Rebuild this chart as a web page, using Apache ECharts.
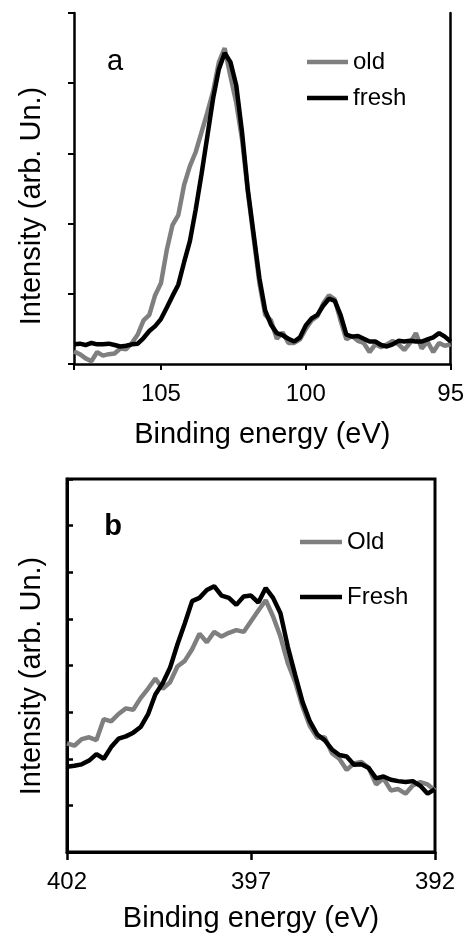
<!DOCTYPE html>
<html><head><meta charset="utf-8">
<script src="https://cdn.jsdelivr.net/npm/echarts@6/dist/echarts.min.js"></script>
<style>html,body{margin:0;padding:0;background:#fff}#c{width:467px;height:934px}</style>
</head><body><div id="c"></div>
<script>
// ---- Panel a (top) ----
const topEnergy = [108.0,107.8,107.6,107.4,107.2,107.0,106.8,106.6,106.4,106.2,106.0,105.8,105.6,105.4,105.2,105.0,104.8,104.6,104.4,104.2,104.0,103.8,103.6,103.4,103.2,103.0,102.8,102.6,102.4,102.2,102.0,101.8,101.6,101.4,101.2,101.0,100.8,100.6,100.4,100.2,100.0,99.8,99.6,99.4,99.2,99.0,98.8,98.6,98.4,98.2,98.0,97.8,97.6,97.4,97.2,97.0,96.8,96.6,96.4,96.2,96.0,95.8,95.6,95.4,95.2,95.0];
const topOld = [0.18,0.14,0.08,0.04,0.17,0.12,0.14,0.15,0.22,0.21,0.30,0.42,0.62,0.70,0.98,1.15,1.62,1.98,2.12,2.55,2.82,3.02,3.30,3.58,3.88,4.30,4.50,4.10,3.72,3.20,2.45,1.80,1.15,0.70,0.62,0.36,0.45,0.30,0.30,0.35,0.50,0.62,0.68,0.86,0.98,0.92,0.62,0.35,0.40,0.33,0.30,0.17,0.28,0.24,0.28,0.33,0.28,0.20,0.30,0.44,0.22,0.32,0.17,0.30,0.26,0.28];
const topFresh = [0.28,0.29,0.27,0.30,0.28,0.28,0.29,0.27,0.25,0.26,0.28,0.29,0.37,0.47,0.54,0.64,0.80,0.97,1.13,1.45,1.75,2.20,2.70,3.24,3.78,4.20,4.43,4.30,3.97,3.30,2.48,1.85,1.22,0.76,0.56,0.44,0.41,0.36,0.32,0.38,0.55,0.65,0.70,0.83,0.93,0.90,0.70,0.42,0.39,0.40,0.36,0.32,0.32,0.27,0.25,0.28,0.33,0.32,0.33,0.32,0.32,0.35,0.38,0.44,0.39,0.32];
const topTickLabels = [105, 100, 95];

// ---- Panel b (bottom) ----
const botEnergy = [402.0,401.8,401.6,401.4,401.2,401.0,400.8,400.6,400.4,400.2,400.0,399.8,399.6,399.4,399.2,399.0,398.8,398.6,398.4,398.2,398.0,397.8,397.6,397.4,397.2,397.0,396.8,396.6,396.4,396.2,396.0,395.8,395.6,395.4,395.2,395.0,394.8,394.6,394.4,394.2,394.0,393.8,393.6,393.4,393.2,393.0,392.8,392.6,392.4,392.2,392.0];
const botOld = [2.33,2.28,2.42,2.46,2.40,2.85,2.80,2.96,3.08,3.05,3.30,3.50,3.72,3.50,3.64,3.98,4.10,4.35,4.68,4.50,4.72,4.62,4.70,4.76,4.72,4.95,5.18,5.40,5.05,4.62,4.05,3.65,3.12,2.70,2.45,2.46,2.12,2.00,1.76,1.90,1.93,1.80,1.45,1.58,1.32,1.35,1.25,1.43,1.50,1.45,1.32];
const botFresh = [1.83,1.85,1.88,1.96,2.10,2.00,2.25,2.43,2.48,2.56,2.68,2.95,3.38,3.62,3.95,4.45,4.90,5.38,5.45,5.62,5.70,5.50,5.45,5.30,5.48,5.50,5.35,5.66,5.45,5.12,4.40,3.80,3.22,2.80,2.52,2.40,2.20,2.08,2.05,1.87,1.88,1.80,1.58,1.62,1.55,1.52,1.50,1.52,1.42,1.25,1.35];
const botTickLabels = [402, 397, 392];

const FONT = 'Liberation Sans, Arial, sans-serif';
const GRAY = '#7f7f7f';

function pairs(xs, ys) { return xs.map((x, i) => [x, ys[i]]); }

const chart = echarts.init(document.getElementById('c'), null, {renderer: 'canvas'});

const lineSeries = (name, xi, yi, xs, ys, color, z) => ({
  type: 'line', name, xAxisIndex: xi, yAxisIndex: yi,
  data: pairs(xs, ys), symbol: 'none', showSymbol: false, smooth: false,
  lineStyle: {color, width: 4.5}, itemStyle: {color}, z, animation: false
});

const legendItem = (name, left, top, w) => ({
  data: [name], left, top, orient: 'horizontal', padding: 0, itemGap: 0,
  icon: 'rect', itemWidth: w, itemHeight: 4.5, selectedMode: false,
  textStyle: {fontSize: 24, color: '#000', fontFamily: FONT, lineHeight: 24, padding: [0, 0, 0, 0]}
});

const option = {
  backgroundColor: '#fff',
  animation: false,
  grid: [
    {left: 74, top: 13, width: 379, height: 351, containLabel: false},
    {left: 67, top: 479, width: 368, height: 373, containLabel: false, show: true, borderColor: '#000', borderWidth: 3, backgroundColor: 'transparent'}
  ],
  xAxis: [
    {
      gridIndex: 0, type: 'value', min: 95, max: 108, interval: 5, inverse: true,
      axisLine: {show: true, onZero: false, lineStyle: {color: '#000', width: 2.5}},
      axisTick: {show: true, inside: false, length: 6, lineStyle: {color: '#000', width: 2}},
      axisLabel: {show: true, fontSize: 24, color: '#000', fontFamily: FONT, margin: 18,
        formatter: v => topTickLabels.includes(v) ? String(v) : ''},
      splitLine: {show: false},
      name: 'Binding energy (eV)', nameLocation: 'middle', nameGap: 56,
      nameTextStyle: {fontSize: 29, color: '#000', fontFamily: FONT}
    },
    {
      gridIndex: 1, type: 'value', min: 392, max: 402, interval: 5, inverse: true,
      axisLine: {show: true, onZero: false, lineStyle: {color: '#000', width: 3}},
      axisTick: {show: true, inside: false, length: 8, lineStyle: {color: '#000', width: 2.5}},
      axisLabel: {show: true, fontSize: 24, color: '#000', fontFamily: FONT, margin: 18,
        formatter: v => botTickLabels.includes(v) ? String(v) : ''},
      splitLine: {show: false},
      name: 'Binding energy (eV)', nameLocation: 'middle', nameGap: 52,
      nameTextStyle: {fontSize: 29, color: '#000', fontFamily: FONT}
    }
  ],
  yAxis: [
    {
      gridIndex: 0, type: 'value', min: 0, max: 5, interval: 1,
      axisLine: {show: true, onZero: false, lineStyle: {color: '#000', width: 2.5}},
      axisTick: {show: true, inside: false, length: 6, lineStyle: {color: '#000', width: 2}},
      axisLabel: {show: false}, splitLine: {show: false}
    },
    {
      gridIndex: 0, type: 'value', position: 'right', min: 0, max: 5, interval: 1,
      axisLine: {show: true, onZero: false, lineStyle: {color: '#000', width: 2.5}},
      axisTick: {show: false}, axisLabel: {show: false}, splitLine: {show: false}
    },
    {
      gridIndex: 1, type: 'value', min: 0, max: 8, interval: 1,
      axisLine: {show: true, onZero: false, lineStyle: {color: '#000', width: 3}},
      axisTick: {show: true, inside: true, length: 6, lineStyle: {color: '#000', width: 2.5}},
      axisLabel: {show: false}, splitLine: {show: false}
    }
  ],
  legend: [
    legendItem('old', 307, 50, 41),
    legendItem('fresh', 307, 86, 41),
    legendItem('Old', 300, 530, 42),
    legendItem('Fresh', 300, 585, 42)
  ],
  graphic: [
    {type: 'text', x: 115, y: 62, style: {text: 'a', fontSize: 29, fontFamily: FONT, fill: '#000', align: 'center', verticalAlign: 'middle'}},
    {type: 'text', x: 113, y: 527, style: {text: 'b', fontSize: 29, fontWeight: 'bold', fontFamily: FONT, fill: '#000', align: 'center', verticalAlign: 'middle'}},
    {type: 'text', x: 32, y: 206, rotation: Math.PI / 2, style: {text: 'Intensity (arb. Un.)', fontSize: 29, fontFamily: FONT, fill: '#000', align: 'center', verticalAlign: 'middle'}},
    {type: 'text', x: 32, y: 676, rotation: Math.PI / 2, style: {text: 'Intensity (arb. Un.)', fontSize: 29, fontFamily: FONT, fill: '#000', align: 'center', verticalAlign: 'middle'}}
  ],
  series: [
    lineSeries('old', 0, 0, topEnergy, topOld, GRAY, 2),
    lineSeries('fresh', 0, 0, topEnergy, topFresh, '#000', 3),
    lineSeries('Old', 1, 2, botEnergy, botOld, GRAY, 2),
    lineSeries('Fresh', 1, 2, botEnergy, botFresh, '#000', 3)
  ]
};
chart.setOption(option);
</script>
</body></html>
